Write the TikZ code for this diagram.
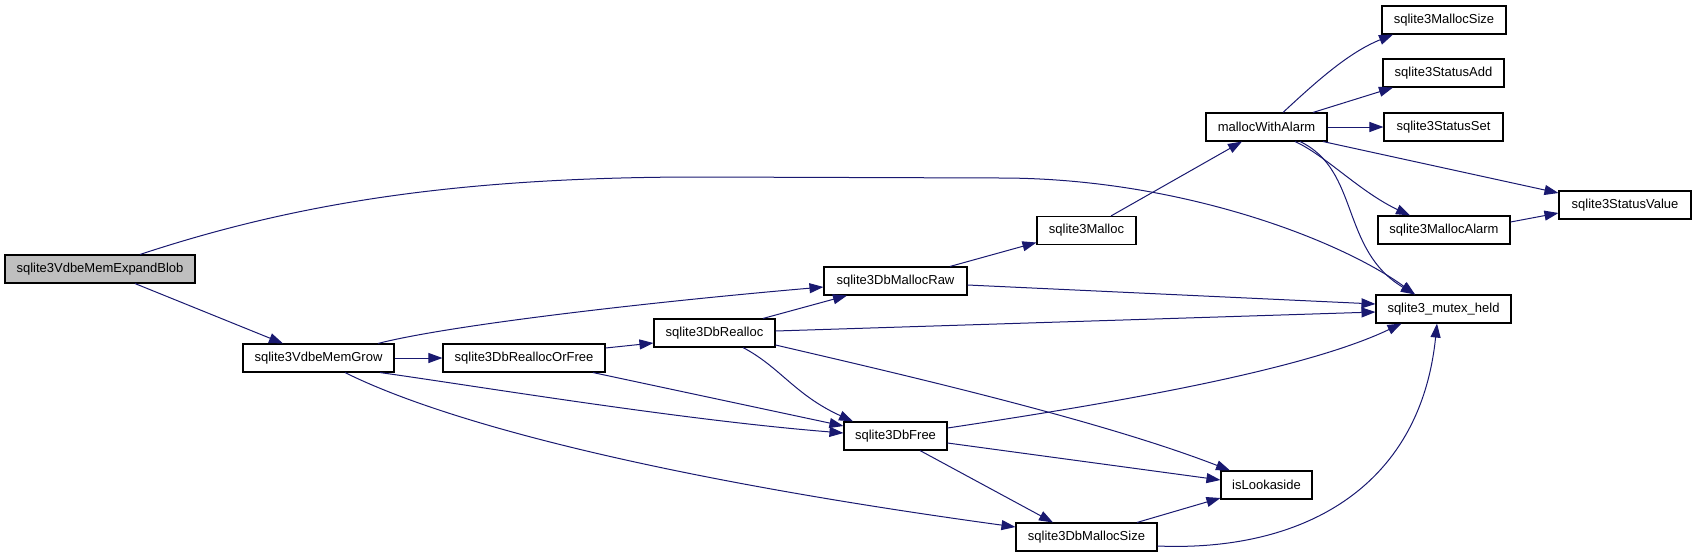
\documentclass[tikz,border=0pt]{standalone}
\usepackage{fontspec}
\setmainfont{Liberation Sans}
\usetikzlibrary{arrows.meta,calc}
\definecolor{edgeblue}{HTML}{191970}
\definecolor{rootgray}{HTML}{BFBFBF}
\begin{document}
\begin{tikzpicture}[x=1pt,y=-1pt,
  fn/.style={draw=black, line width=1.1pt, fill=white, minimum height=28pt, inner sep=0pt, font=\fontsize{13}{15}\selectfont},
  root/.style={fn, fill=rootgray},
  call/.style={draw=edgeblue, line width=1pt, -{Triangle[length=14pt,width=10pt]}}]
\useasboundingbox (0,0) rectangle (1696,557);
% nodes
\node[root, minimum width=190pt] (eb) at (100,269) {sqlite3VdbeMemExpandBlob};
\node[fn, minimum width=151pt] (grow) at (318.5,358) {sqlite3VdbeMemGrow};
\node[fn, minimum width=162pt] (rof) at (524,358) {sqlite3DbReallocOrFree};
\node[fn, minimum width=121pt] (realloc) at (714.5,333) {sqlite3DbRealloc};
\node[fn, minimum width=143pt] (raw) at (895.5,281) {sqlite3DbMallocRaw};
\node[fn, minimum width=99pt] (malloc) at (1086.5,230.5) {sqlite3Malloc};
\node[fn, minimum width=121pt] (mwa) at (1266.5,127) {mallocWithAlarm};
\node[fn, minimum width=124pt] (msize) at (1444,20) {sqlite3MallocSize};
\node[fn, minimum width=121pt] (sadd) at (1443.5,73) {sqlite3StatusAdd};
\node[fn, minimum width=119pt] (sset) at (1443.5,127) {sqlite3StatusSet};
\node[fn, minimum width=132pt] (svalue) at (1625,205) {sqlite3StatusValue};
\node[fn, minimum width=132pt] (malarm) at (1444,230) {sqlite3MallocAlarm};
\node[fn, minimum width=135pt] (mutex) at (1443.5,309) {sqlite3\_mutex\_held};
\node[fn, minimum width=103pt] (free) at (895.5,436) {sqlite3DbFree};
\node[fn, minimum width=91pt] (look) at (1266.5,485) {isLookaside};
\node[fn, minimum width=141pt] (dbms) at (1086.5,537) {sqlite3DbMallocSize};
% edges
\draw[call] ($(eb.south)+(35,0)$) -- ($(grow.north)+(-35.5,0)$);
\draw[call] ($(eb.north)+(40,0)$) .. controls (290,205) and (450,177) .. (700,177) -- (1000,178) .. controls (1180,178) and (1340,240) .. ($(mutex.north)+(-28.5,0)$);
\draw[call] ($(grow.north)+(59.5,0)$) .. controls (450,325) and (650,302) .. ($(raw.west)+(0,6)$);
\draw[call] (grow.east) -- (rof.west);
\draw[call] ($(grow.south)+(61.5,0)$) .. controls (470,385) and (680,420) .. ($(free.west)+(0,-3)$);
\draw[call] ($(grow.south)+(26.5,0)$) .. controls (420,410) and (600,470) .. ($(dbms.west)+(0,-10)$);
\draw[call] ($(rof.east)+(0,-10)$) -- ($(realloc.west)+(0,10)$);
\draw[call] ($(rof.south)+(69,0)$) -- ($(free.west)+(0,-10)$);
\draw[call] ($(realloc.north)+(48.5,0)$) -- ($(raw.south)+(-48.5,0)$);
\draw[call] ($(realloc.east)+(0,-2)$) -- ($(mutex.west)+(0,3)$);
\draw[call] ($(realloc.south)+(28.5,0)$) .. controls (780,367) and (795,395) .. ($(free.north)+(-42.5,0)$);
\draw[call] ($(realloc.east)+(0,12)$) .. controls (900,374) and (1100,420) .. ($(look.north)+(-36.5,0)$);
\draw[call] ($(raw.north)+(54.5,0)$) -- ($(malloc.west)+(0,12)$);
\draw[call] ($(raw.east)+(0,4)$) -- ($(mutex.west)+(0,-5)$);
\draw[call] ($(malloc.north)+(24.5,0)$) -- ($(mwa.south)+(-24.5,0)$);
\draw[call] ($(mwa.north)+(16.5,0)$) .. controls (1320,78) and (1350,52) .. ($(msize.south)+(-51,0)$);
\draw[call] ($(mwa.north)+(46.5,0)$) -- ($(sadd.south)+(-50.5,0)$);
\draw[call] (mwa.east) -- (sset.west);
\draw[call] ($(mwa.south)+(56.5,0)$) -- ($(svalue.west)+(0,-12)$);
\draw[call] ($(mwa.south)+(28.5,0)$) .. controls (1325,155) and (1360,192) .. ($(malarm.north)+(-34,0)$);
\draw[call] ($(mwa.south)+(33.5,0)$) .. controls (1360,170) and (1340,250) .. ($(mutex.north)+(-28.5,0)$);
\draw[call] ($(malarm.east)+(0,-8)$) -- ($(svalue.west)+(0,8)$);
\draw[call] ($(free.east)+(0,-8)$) .. controls (1100,405) and (1300,372) .. ($(mutex.south)+(-42,0)$);
\draw[call] ($(free.east)+(0,7)$) -- ($(look.west)+(0,-5)$);
\draw[call] ($(free.south)+(24.5,0)$) -- ($(dbms.north)+(-33.5,0)$);
\draw[call] ($(dbms.north)+(50.5,0)$) -- ($(look.west)+(0,13)$);
\draw[call] ($(dbms.east)+(0,9)$) .. controls (1300,552) and (1420,490) .. ($(mutex.south)+(-6.5,0)$);
\end{tikzpicture}
\end{document}
